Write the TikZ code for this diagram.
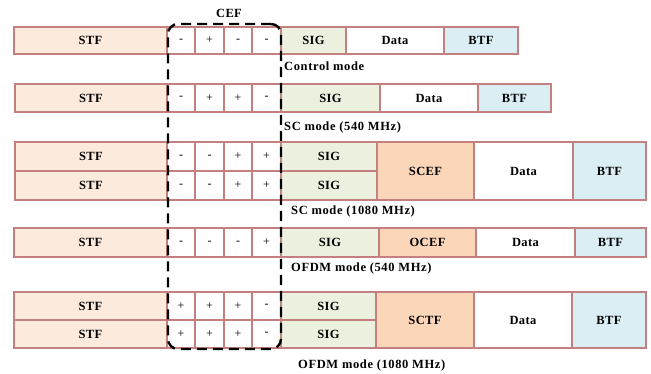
\documentclass[tikz,border=0pt]{standalone}
\usepackage{fontspec}
\setmainfont{Liberation Serif}
\usetikzlibrary{fit}
\definecolor{bordc}{RGB}{196,128,126}
\definecolor{stffill}{RGB}{252,234,220}
\definecolor{sigfill}{RGB}{235,241,222}
\definecolor{cefill}{RGB}{251,214,184}
\definecolor{btffill}{RGB}{219,238,244}
\newcommand\fcell[7]{\node[#2, anchor=north west, minimum width={#5-#3}, minimum height={#6-#4}] (#1) at (#3,#4) {#7};}
\begin{document}
\begin{tikzpicture}[x=1pt,y=-1pt,
  base/.style={draw=bordc, line width=1.2pt, inner sep=0pt, outer sep=0pt, font=\fontsize{12.5}{13}\selectfont\bfseries\addfontfeatures{LetterSpace=3}},
  stf/.style={base, fill=stffill},
  sig/.style={base, fill=sigfill},
  cefc/.style={base, fill=cefill},
  btf/.style={base, fill=btffill},
  dat/.style={base, fill=white},
  sgn/.style={base, fill=white, font=\fontsize{12}{13}\selectfont},
  mode/.style={anchor=west, inner sep=0pt, font=\fontsize{12.5}{13}\selectfont\bfseries\addfontfeatures{LetterSpace=5}},
  cefbox/.style={draw=black, line width=2.4pt, dash pattern=on 10pt off 6pt, rounded corners=10pt, inner sep=0pt}
]
\useasboundingbox (0,0) rectangle (651,374);
% Row 1: Control mode
\fcell{a0}{stf}{14}{27}{167}{54}{STF}
\fcell{a1}{sgn}{167}{27}{195}{54}{-}
\fcell{a2}{sgn}{195}{27}{224}{54}{+}
\fcell{a3}{sgn}{224}{27}{252}{54}{-}
\fcell{a4}{sgn}{252}{27}{281}{54}{-}
\fcell{a5}{sig}{281}{27}{346}{54}{SIG}
\fcell{a6}{dat}{346}{27}{444}{54}{Data}
\fcell{a7}{btf}{444}{27}{518}{54}{BTF}
\node[mode] (la) at (284,66) {Control mode};
% Row 2: SC mode 540
\fcell{b0}{stf}{15}{84}{167}{112}{STF}
\fcell{b1}{sgn}{167}{84}{195}{112}{-}
\fcell{b2}{sgn}{195}{84}{224}{112}{+}
\fcell{b3}{sgn}{224}{84}{252}{112}{+}
\fcell{b4}{sgn}{252}{84}{281}{112}{-}
\fcell{b5}{sig}{281}{84}{380}{112}{SIG}
\fcell{b6}{dat}{380}{84}{478}{112}{Data}
\fcell{b7}{btf}{478}{84}{551}{112}{BTF}
\node[mode] (lb) at (284,127) {SC mode (540 MHz)};
% Row 3: SC mode 1080
\fcell{c0}{stf}{15}{142}{167}{171}{STF}
\fcell{c1}{sgn}{167}{142}{195}{171}{-}
\fcell{c2}{sgn}{195}{142}{224}{171}{-}
\fcell{c3}{sgn}{224}{142}{252}{171}{+}
\fcell{c4}{sgn}{252}{142}{281}{171}{+}
\fcell{c5}{sig}{281}{142}{377}{171}{SIG}
\fcell{d0}{stf}{15}{171}{167}{200}{STF}
\fcell{d1}{sgn}{167}{171}{195}{200}{-}
\fcell{d2}{sgn}{195}{171}{224}{200}{-}
\fcell{d3}{sgn}{224}{171}{252}{200}{+}
\fcell{d4}{sgn}{252}{171}{281}{200}{+}
\fcell{d5}{sig}{281}{171}{377}{200}{SIG}
\fcell{c6}{cefc}{377}{142}{474}{200}{SCEF}
\fcell{c7}{dat}{474}{142}{573}{200}{Data}
\fcell{c8}{btf}{573}{142}{646}{200}{BTF}
\node[mode] (lc) at (291,211) {SC mode (1080 MHz)};
% Row 4: OFDM mode 540
\fcell{e0}{stf}{14}{228}{167}{257}{STF}
\fcell{e1}{sgn}{167}{228}{195}{257}{-}
\fcell{e2}{sgn}{195}{228}{224}{257}{-}
\fcell{e3}{sgn}{224}{228}{252}{257}{-}
\fcell{e4}{sgn}{252}{228}{281}{257}{+}
\fcell{e5}{sig}{281}{228}{379}{257}{SIG}
\fcell{e6}{cefc}{379}{228}{476}{257}{OCEF}
\fcell{e7}{dat}{476}{228}{575}{257}{Data}
\fcell{e8}{btf}{575}{228}{646}{257}{BTF}
\node[mode] (le) at (291,268) {OFDM mode (540 MHz)};
% Row 5: OFDM mode 1080
\fcell{f0}{stf}{14}{292}{167}{320}{STF}
\fcell{f1}{sgn}{167}{292}{195}{320}{+}
\fcell{f2}{sgn}{195}{292}{224}{320}{+}
\fcell{f3}{sgn}{224}{292}{252}{320}{+}
\fcell{f4}{sgn}{252}{292}{281}{320}{-}
\fcell{f5}{sig}{281}{292}{376}{320}{SIG}
\fcell{g0}{stf}{14}{320}{167}{348}{STF}
\fcell{g1}{sgn}{167}{320}{195}{348}{+}
\fcell{g2}{sgn}{195}{320}{224}{348}{+}
\fcell{g3}{sgn}{224}{320}{252}{348}{+}
\fcell{g4}{sgn}{252}{320}{281}{348}{-}
\fcell{g5}{sig}{281}{320}{376}{348}{SIG}
\fcell{f6}{cefc}{376}{292}{474}{348}{SCTF}
\fcell{f7}{dat}{474}{292}{572}{348}{Data}
\fcell{f8}{btf}{572}{292}{646}{348}{BTF}
\node[mode] (lf) at (298,365) {OFDM mode (1080 MHz)};
% CEF dashed box
\coordinate (boxtl) at (168,24);
\coordinate (boxbr) at (281,349);
\node[cefbox, fit=(boxtl)(boxbr)] (cef) {};
\node[font=\fontsize{12.5}{13}\selectfont\bfseries\addfontfeatures{LetterSpace=3}, inner sep=0pt] (ceflabel) at (229,13) {CEF};
\end{tikzpicture}
\end{document}
